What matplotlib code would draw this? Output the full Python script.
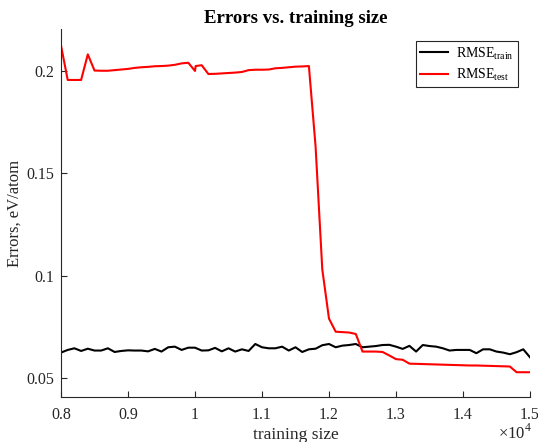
import numpy as np
import matplotlib
matplotlib.use("Agg")
import matplotlib.pyplot as plt
from matplotlib.ticker import FuncFormatter

plt.rcParams['font.family'] = ['Liberation Serif', 'DejaVu Serif']
plt.rcParams['mathtext.fontset'] = 'custom'
plt.rcParams['mathtext.rm'] = 'Liberation Serif'

# training sizes, 8000..15000 step 100
sizes = np.arange(8000, 15001, 100)

rmse_train = [0.0624, 0.0637, 0.0645, 0.0632, 0.0643, 0.0634, 0.0634, 0.0645, 0.0627, 0.0632,
              0.0635, 0.0634, 0.0634, 0.0630, 0.0642, 0.0629, 0.0650, 0.0653, 0.0637, 0.0648,
              0.0648, 0.0634, 0.0635, 0.0647, 0.0630, 0.0645, 0.0629, 0.0640, 0.0632, 0.0666,
              0.0650, 0.0645, 0.0645, 0.0653, 0.0634, 0.0650, 0.0627, 0.0640, 0.0643, 0.0660,
              0.0666, 0.0650, 0.0658, 0.0661, 0.0666, 0.0650, 0.0653, 0.0656, 0.0661, 0.0662,
              0.0653, 0.0642, 0.0657, 0.0629, 0.0661, 0.0656, 0.0653, 0.0645, 0.0634, 0.0637,
              0.0637, 0.0637, 0.0621, 0.0640, 0.0640, 0.0629, 0.0624, 0.0616, 0.0626, 0.0640,
              0.0601]

# test curve has one extra point right after 10000 (sharp dip)
test_sizes = np.insert(sizes, 21, 10010)
rmse_test = [0.2124, 0.1956, 0.1956, 0.1956, 0.2081, 0.2002, 0.2001, 0.2001, 0.2004, 0.2007,
             0.2010, 0.2015, 0.2018, 0.2020, 0.2023, 0.2024, 0.2026, 0.2030, 0.2037, 0.2040,
             0.2000, 0.2024, 0.2028, 0.1985, 0.1986, 0.1988, 0.1990, 0.1992, 0.1995, 0.2004,
             0.2006, 0.2006, 0.2007, 0.2013, 0.2015, 0.2018, 0.2021, 0.2022, 0.2024, 0.1630,
             0.1030, 0.0790, 0.0726, 0.0724, 0.0722, 0.0715, 0.0629, 0.0629, 0.0629, 0.0627,
             0.0610, 0.0592, 0.0589, 0.0570, 0.0569, 0.0568, 0.0567, 0.0566, 0.0565, 0.0564,
             0.0563, 0.0562, 0.0561, 0.0561, 0.0560, 0.0559, 0.0558, 0.0557, 0.0556, 0.0528,
             0.0528, 0.0528]

fig = plt.figure(figsize=(5.38, 4.42), dpi=100)
ax = fig.add_axes([0.1134, 0.1018, 0.8717, 0.8326])

ax.plot(sizes, rmse_train, color='black', lw=1.5, label=r'$\mathrm{RMSE}_{\mathrm{train}}$')
ax.plot(test_sizes, rmse_test, color='red', lw=1.5, label=r'$\mathrm{RMSE}_{\mathrm{test}}$')

ax.set_xlim(8000, 15000)
ax.set_ylim(0.0407, 0.2205)
ax.set_xticks(np.arange(8000, 15001, 1000))
ax.set_yticks([0.05, 0.1, 0.15, 0.2])
ax.xaxis.set_major_formatter(FuncFormatter(lambda v, p: f"{v/1e4:g}"))
ax.yaxis.set_major_formatter(FuncFormatter(lambda v, p: f"{v:g}"))

axcol = '#262626'
for s in ['top', 'right']:
    ax.spines[s].set_visible(False)
for s in ['left', 'bottom']:
    ax.spines[s].set_color(axcol)
    ax.spines[s].set_linewidth(0.8)
ax.tick_params(direction='in', length=4, width=0.8, color=axcol, labelcolor=axcol, labelsize=11.5)
ax.tick_params(axis='x', pad=7)
ax.tick_params(axis='y', pad=5)

ax.set_title('Errors vs. training size', fontsize=13.5, fontweight='bold', pad=4)
ax.set_xlabel('training size', fontsize=12.5, color=axcol, labelpad=3)
ax.set_ylabel('Errors, eV/atom', fontsize=12, color=axcol)
ax.yaxis.set_label_coords(-0.082, 0.5)
ax.text(1.005, -0.072, r'$\times 10^{4}$', transform=ax.transAxes, ha='right', va='top',
        fontsize=12, color=axcol)

leg = ax.legend(loc='upper right', bbox_to_anchor=(0.974, 0.967), fontsize=10, fancybox=False,
                framealpha=1, edgecolor=axcol, handlelength=2.0, borderpad=0.3,
                labelspacing=0.35, handletextpad=0.6, borderaxespad=0)
leg.get_frame().set_linewidth(0.8)

fig.savefig('out.png', dpi=100)
